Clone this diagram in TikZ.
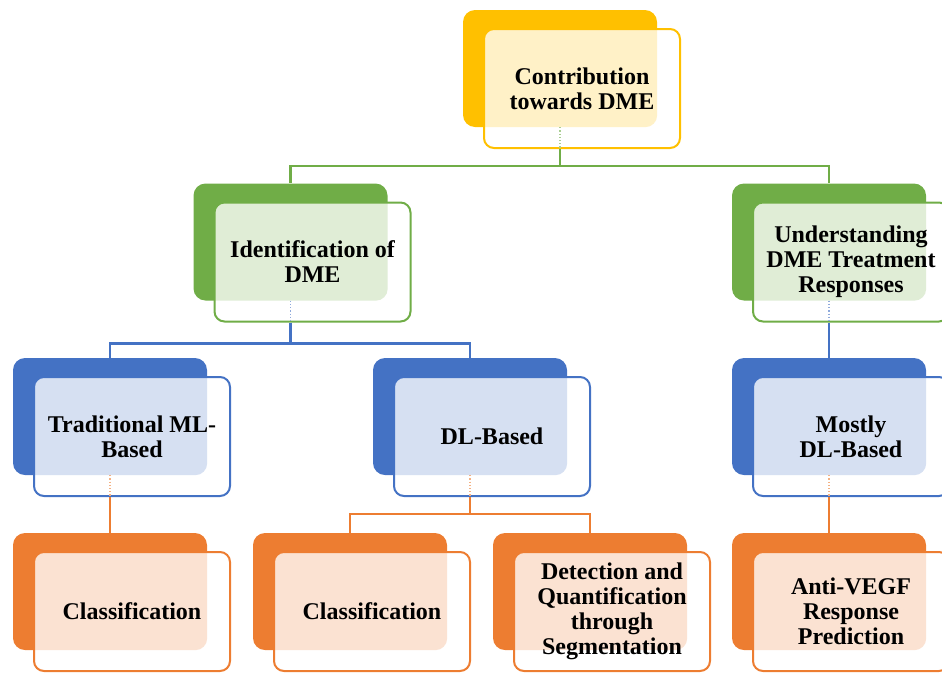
\documentclass[tikz,border=0pt]{standalone}
\usepackage{fontspec}
\setmainfont{Liberation Serif}
\usetikzlibrary{calc}

\definecolor{dmeyellow}{HTML}{FFC000}
\definecolor{dmegreen}{HTML}{70AD47}
\definecolor{dmeblue}{HTML}{4472C4}
\definecolor{dmeorange}{HTML}{ED7D31}

\tikzset{
    backbox/.style={rectangle, rounded corners=12pt, minimum width=194pt, minimum height=117pt, inner sep=0pt},
    frontbox/.style={rectangle, rounded corners=10pt, minimum width=196pt, minimum height=119pt,
        line width=2pt, align=center, inner sep=0pt, font=\bfseries\fontsize{24}{25}\selectfont},
    link/.style={line width=2.2pt},
    stub/.style={dotted, line width=1.2pt},
}

% name, back centre x, back centre y, colour, text
\newcommand{\dmebox}[5]{%
    \node[backbox, fill=#4] (#1b) at (#2,#3) {};
    \coordinate (#1c) at ([shift={(22,20)}]#1b.center);
    \fill[white, rounded corners=10pt] ([shift={(-98,-59.5)}]#1c) rectangle ([shift={(98,59.5)}]#1c);
    \begin{scope}
        \clip[rounded corners=12pt] (#1b.north west) rectangle (#1b.south east);
        \fill[#4!22, rounded corners=10pt] ([shift={(-98,-59.5)}]#1c) rectangle ([shift={(98,59.5)}]#1c);
    \end{scope}
    \node[frontbox, draw=#4] (#1) at (#1c) {#5};
}

\begin{document}
\begin{tikzpicture}[x=1pt, y=-1pt]

    \useasboundingbox (0,0) rectangle (942,673);

    \dmebox{contrib}{560}{68.5}{dmeyellow}{Contribution\\towards DME}

    \dmebox{ident}{290.5}{242}{dmegreen}{Identification of\\DME}
    \dmebox{treat}{829}{242}{dmegreen}{Understanding\\DME Treatment\\Responses}

    \dmebox{trad}{110}{416.5}{dmeblue}{Traditional ML-\\Based}
    \dmebox{dlb}{470}{416.5}{dmeblue}{DL-Based}
    \dmebox{mostly}{829}{416.5}{dmeblue}{Mostly\\DL-Based}

    \dmebox{classa}{110}{591.5}{dmeorange}{Classification}
    \dmebox{classb}{350}{591.5}{dmeorange}{Classification}
    \dmebox{detect}{590}{591.5}{dmeorange}{Detection and\\Quantification\\through\\Segmentation}
    \dmebox{vegf}{829}{591.5}{dmeorange}{Anti-VEGF\\Response\\Prediction}

    % level 1
    \draw[stub, dmegreen!60] (contribb.south) -- (contribb |- contrib.south);
    \draw[link, dmegreen] (contribb |- contrib.south) -- ++(0,17) -| (identb.north);
    \draw[link, dmegreen] (contribb |- contrib.south) -- ++(0,17) -| (treatb.north);

    % level 2
    \draw[stub, dmeblue!60] (identb.south) -- (identb |- ident.south);
    \draw[link, dmeblue] (identb |- ident.south) -- ++(0,21) -| (tradb.north);
    \draw[link, dmeblue] (identb |- ident.south) -- ++(0,21) -| (dlbb.north);
    \draw[stub, dmeblue!60] (treatb.south) -- (treatb |- treat.south);
    \draw[link, dmeblue] (treatb |- treat.south) -- (mostlyb.north);

    % level 3
    \draw[stub, dmeorange!60] (tradb.south) -- (tradb |- trad.south);
    \draw[link, dmeorange] (tradb |- trad.south) -- (classab.north);
    \draw[stub, dmeorange!60] (dlbb.south) -- (dlbb |- dlb.south);
    \draw[link, dmeorange] (dlbb |- dlb.south) -- ++(0,17) -| (classbb.north);
    \draw[link, dmeorange] (dlbb |- dlb.south) -- ++(0,17) -| (detectb.north);
    \draw[stub, dmeorange!60] (mostlyb.south) -- (mostlyb |- mostly.south);
    \draw[link, dmeorange] (mostlyb |- mostly.south) -- (vegfb.north);

\end{tikzpicture}
\end{document}
